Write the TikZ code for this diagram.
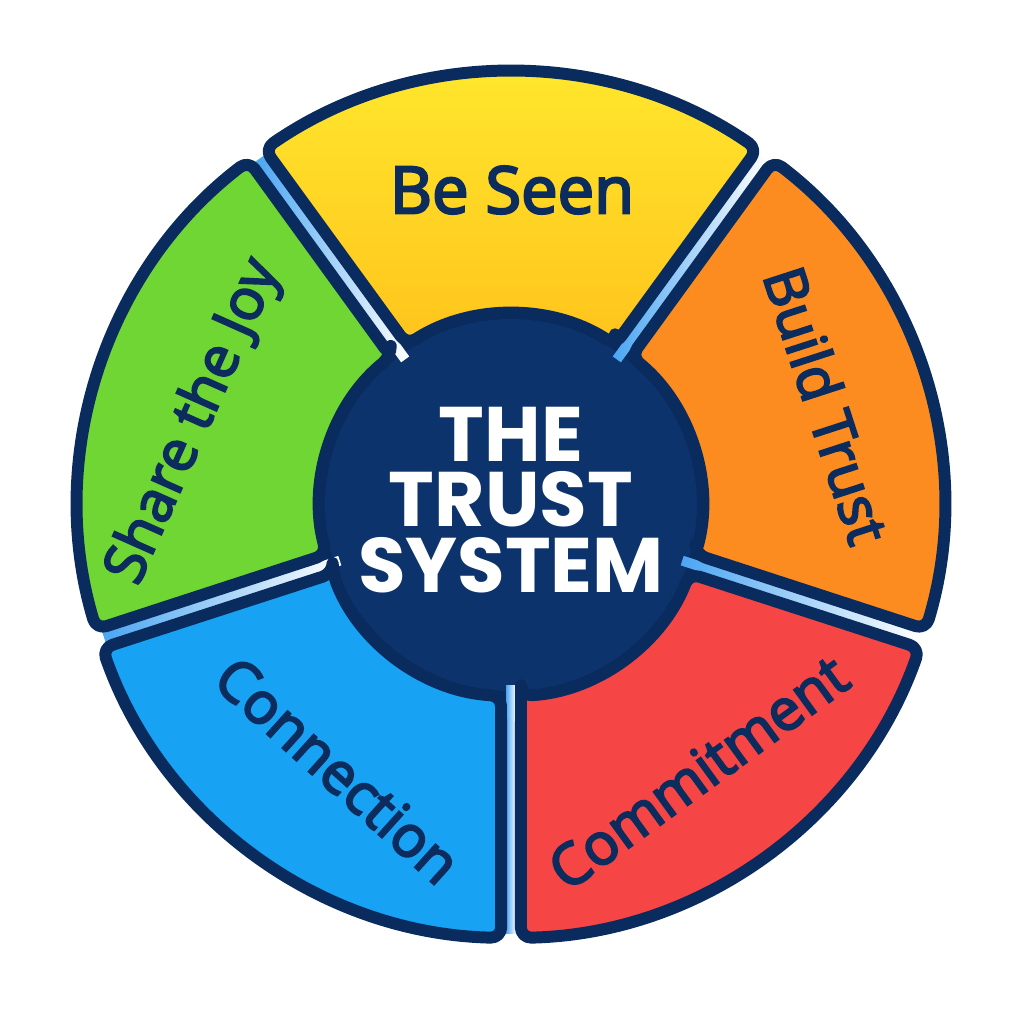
\documentclass[tikz,border=0pt]{standalone}
\usepackage{fontspec}
\setmainfont{Open Sans}
\newfontfamily\lblfont{Open Sans}[FakeBold=3.6]
\newfontfamily\titlefont{Poppins}
\usepackage{tikz}
\usetikzlibrary{positioning}
\definecolor{cNavy}{HTML}{0A2B5E}
\definecolor{cCore}{HTML}{0C336C}
\definecolor{cInk}{HTML}{0B2C5C}
\definecolor{cYelT}{HTML}{FFE92E}
\definecolor{cYelB}{HTML}{FFC41C}
\definecolor{cOrg}{HTML}{FC8C1F}
\definecolor{cRed}{HTML}{F64545}
\definecolor{cBlu}{HTML}{17A2F3}
\definecolor{cGrn}{HTML}{6FD634}
\definecolor{cGap}{HTML}{4BA6F2}
% one ring piece between two angles
\newcommand{\segment}[3]{%
  \draw[seg,#3] ({#1+3}:191) -- ({#1+1.3}:433)
    arc[start angle={#1+1.3}, end angle={#2-1.3}, radius=433]
    -- ({#2-3}:191) arc[start angle={#2-3}, end angle={#1+3}, radius=191] -- cycle;}
\tikzset{
  seg/.style={draw=cNavy, line width=3.4pt, line join=round, rounded corners=3pt},
  gap/.style={left color=cGap, right color=white},
  lbl/.style={text=cInk, font=\lblfont\fontsize{16.3}{19}\selectfont, inner sep=0pt},
  core/.style={text=white, align=center, inner sep=0pt,
               font=\titlefont\bfseries\fontsize{22}{18.6}\selectfont}
}

\begin{document}
\begin{tikzpicture}[x=0.01cm, y=0.01cm]
\useasboundingbox (-511,-519) rectangle (513,505);
\fill[cNavy] (0,0) circle (200);
\fill[cCore] (0,0) circle (186);
\shade[gap, rotate=-90] (180,-5) rectangle (428,5);
\shade[gap, rotate=-18] (180,-5) rectangle (428,5);
\shade[gap, rotate=54] (180,-5) rectangle (428,5);
\shade[gap, rotate=126] (180,-5) rectangle (428,5);
\shade[gap, rotate=198] (180,-5) rectangle (428,5);
\segment{54}{126}{top color=cYelT, bottom color=cYelB}
\segment{-18}{54}{fill=cOrg}
\segment{-90}{-18}{fill=cRed}
\segment{198}{270}{fill=cBlu}
\segment{126}{198}{fill=cGrn}
\node[lbl, font=\lblfont\fontsize{18.5}{22}\selectfont] (seen) at (1,315) {Be Seen};
\node[lbl, rotate=-72] (build) at (316,100) {Build Trust};
\node[lbl, rotate=36] (commit) at (187,-267) {Commitment};
\node[lbl, rotate=-42] (conn) at (-173,-265) {Connection};
\node[lbl, rotate=66] (joy) at (-316,83) {Share the Joy};
\node[core] (title) at (0,5) {THE\\TRUST\\SYSTEM};
\end{tikzpicture}
\end{document}
